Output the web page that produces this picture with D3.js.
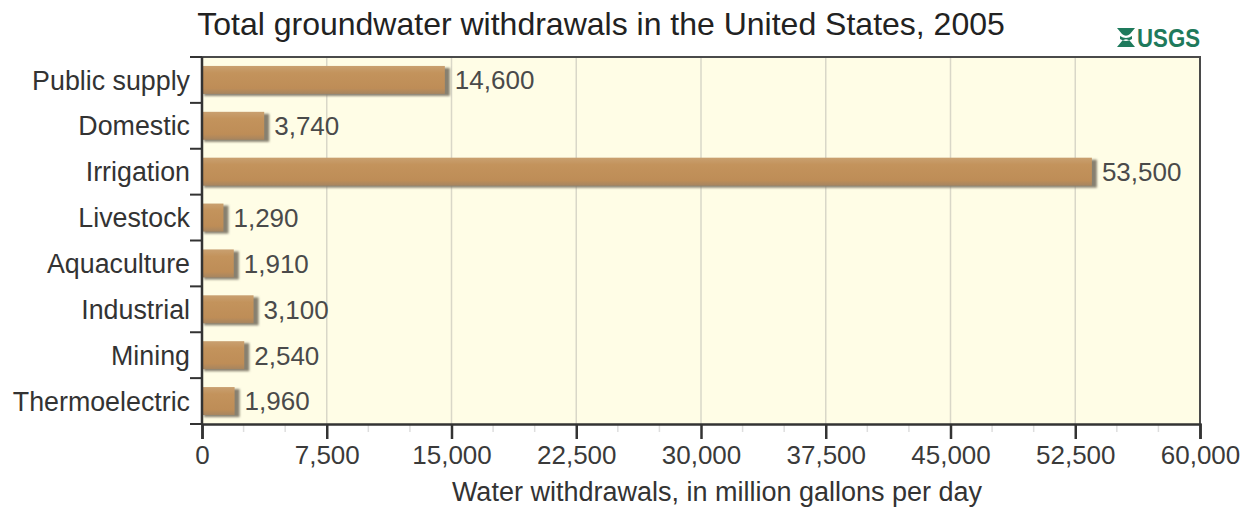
<!DOCTYPE html>
<html>
<head>
<meta charset="utf-8">
<script src="https://cdn.jsdelivr.net/npm/d3@7"></script>
<style>
  html, body { margin: 0; padding: 0; background: #ffffff; }
  svg { display: block; }
  text { font-family: "Liberation Sans", Arial, sans-serif; }
</style>
</head>
<body>
<svg id="chart" width="1256" height="514"></svg>
<script>
// Groundwater withdrawals by category, million gallons per day (2005)
const categories = ["Public supply", "Domestic", "Irrigation", "Livestock",
                    "Aquaculture", "Industrial", "Mining", "Thermoelectric"];
const withdrawals = [14600, 3740, 53500, 1290, 1910, 3100, 2540, 1960];
const xTicks = [0, 7500, 15000, 22500, 30000, 37500, 45000, 52500, 60000];
const minorTicks = d3.range(0, 60001, 2500);

const titleText = "Total groundwater withdrawals in the United States, 2005";
const xTitle = "Water withdrawals, in million gallons per day";

const svg = d3.select("#chart");
const fmt = d3.format(",");

const plot = { left: 202, right: 1200, top: 57, bottom: 424 };

const x = d3.scaleLinear().domain([0, 60000]).range([plot.left, plot.right]);
const y = d3.scaleBand().domain(categories).range([plot.top, plot.bottom]).padding(0);
const barH = y.bandwidth() * 0.61;

// Defs: bar gradient and soft shadow
const defs = svg.append("defs");
const grad = defs.append("linearGradient").attr("id", "barGrad")
  .attr("x1", 0).attr("y1", 0).attr("x2", 0).attr("y2", 1);
grad.append("stop").attr("offset", "0%").attr("stop-color", "#c9a070");
grad.append("stop").attr("offset", "25%").attr("stop-color", "#c3935c");
grad.append("stop").attr("offset", "80%").attr("stop-color", "#be8d57");
grad.append("stop").attr("offset", "100%").attr("stop-color", "#a68560");
const blur = defs.append("filter").attr("id", "soft")
  .attr("x", "-10%").attr("y", "-30%").attr("width", "130%").attr("height", "170%");
blur.append("feGaussianBlur").attr("stdDeviation", 1.2);

// Plot background
svg.append("rect")
  .attr("x", plot.left).attr("y", plot.top)
  .attr("width", plot.right - plot.left).attr("height", plot.bottom - plot.top)
  .attr("fill", "#fffde6");

// Vertical gridlines at major ticks
svg.append("g").selectAll("line")
  .data(xTicks.slice(1, -1))
  .join("line")
  .attr("x1", d => x(d)).attr("x2", d => x(d))
  .attr("y1", plot.top).attr("y2", plot.bottom)
  .attr("stroke", "#d9d7c8").attr("stroke-width", 1.5);

// Bars: shadow + body
const bars = svg.append("g");
bars.selectAll("rect.shadow")
  .data(withdrawals)
  .join("rect")
  .attr("class", "shadow")
  .attr("x", x(0) + 2)
  .attr("y", (d, i) => y(categories[i]) + (y.bandwidth() - barH) / 2 + 2)
  .attr("width", d => x(d) - x(0) + 3)
  .attr("height", barH)
  .attr("fill", "#87806f")
  .attr("filter", "url(#soft)");
bars.selectAll("rect.body")
  .data(withdrawals)
  .join("rect")
  .attr("class", "body")
  .attr("x", x(0) + 1)
  .attr("y", (d, i) => y(categories[i]) + (y.bandwidth() - barH) / 2)
  .attr("width", d => x(d) - x(0) - 1)
  .attr("height", barH)
  .attr("fill", "url(#barGrad)");

// Value labels
svg.append("g").selectAll("text")
  .data(withdrawals)
  .join("text")
  .attr("x", d => x(d) + 10)
  .attr("y", (d, i) => y(categories[i]) + y.bandwidth() / 2)
  .attr("dy", "0.36em")
  .attr("font-size", 26)
  .attr("fill", "#4a4a4a")
  .text(d => fmt(d));

// Frame: top and right
svg.append("path")
  .attr("d", `M${plot.left},${plot.top}H${plot.right}V${plot.bottom}`)
  .attr("fill", "none").attr("stroke", "#4a4a4a").attr("stroke-width", 2);

// Minor ticks
svg.append("g").selectAll("line")
  .data(minorTicks.filter(v => !xTicks.includes(v)))
  .join("line")
  .attr("x1", d => x(d)).attr("x2", d => x(d))
  .attr("y1", plot.bottom + 1).attr("y2", plot.bottom + 8)
  .attr("stroke", "#dedede").attr("stroke-width", 1.5);

// X axis
const xAxis = svg.append("g")
  .attr("transform", `translate(0,${plot.bottom})`)
  .call(d3.axisBottom(x).tickValues(xTicks).tickFormat(fmt).tickSize(15).tickPadding(7));
xAxis.select(".domain").attr("stroke", "#333").attr("stroke-width", 2.5);
xAxis.selectAll(".tick line").attr("stroke", "#333").attr("stroke-width", 2.5);
xAxis.selectAll(".tick text").attr("font-size", 26).attr("fill", "#3a3a3a")
  .attr("font-family", "'Liberation Sans', Arial, sans-serif");

// Y axis: ticks at category boundaries
const yAxis = svg.append("g");
yAxis.append("line")
  .attr("x1", plot.left).attr("x2", plot.left)
  .attr("y1", plot.top).attr("y2", plot.bottom + 1)
  .attr("stroke", "#333").attr("stroke-width", 2.5);
yAxis.selectAll("line.tk")
  .data(categories.map(c => y(c)).concat([plot.bottom]))
  .join("line")
  .attr("class", "tk")
  .attr("x1", plot.left - 12).attr("x2", plot.left)
  .attr("y1", d => d).attr("y2", d => d)
  .attr("stroke", "#333").attr("stroke-width", 2);
yAxis.selectAll("text")
  .data(categories)
  .join("text")
  .attr("x", plot.left - 12)
  .attr("y", d => y(d) + y.bandwidth() / 2)
  .attr("dy", "0.36em")
  .attr("text-anchor", "end")
  .attr("font-size", 26.8)
  .attr("fill", "#333")
  .text(d => d);

// Title
svg.append("text")
  .attr("x", 601).attr("y", 35)
  .attr("text-anchor", "middle")
  .attr("font-size", 32)
  .attr("fill", "#222")
  .text(titleText);

// Axis title
svg.append("text")
  .attr("x", 717).attr("y", 501)
  .attr("text-anchor", "middle")
  .attr("font-size", 27)
  .attr("fill", "#333")
  .text(xTitle);

// USGS identifier
const logo = svg.append("g").attr("transform", "translate(1117,28)");
logo.append("path")
  .attr("d", "M0,0 H18 L13,6 Q9,9.5 5,6 L0,0 Z M0,19 H18 L13,13 Q9,9.5 5,13 L0,19 Z M3,8 Q9,12 15,8 L15,11 Q9,15 3,11 Z")
  .attr("fill", "#1e7a5c");
logo.append("text")
  .attr("x", 20).attr("y", 19)
  .attr("font-family", "'DejaVu Sans Condensed', 'DejaVu Sans', sans-serif")
  .attr("font-weight", "bold")
  .attr("font-size", 25)
  .attr("textLength", 63)
  .attr("lengthAdjust", "spacingAndGlyphs")
  .attr("fill", "#1e7a5c")
  .text("USGS");
</script>
</body>
</html>
